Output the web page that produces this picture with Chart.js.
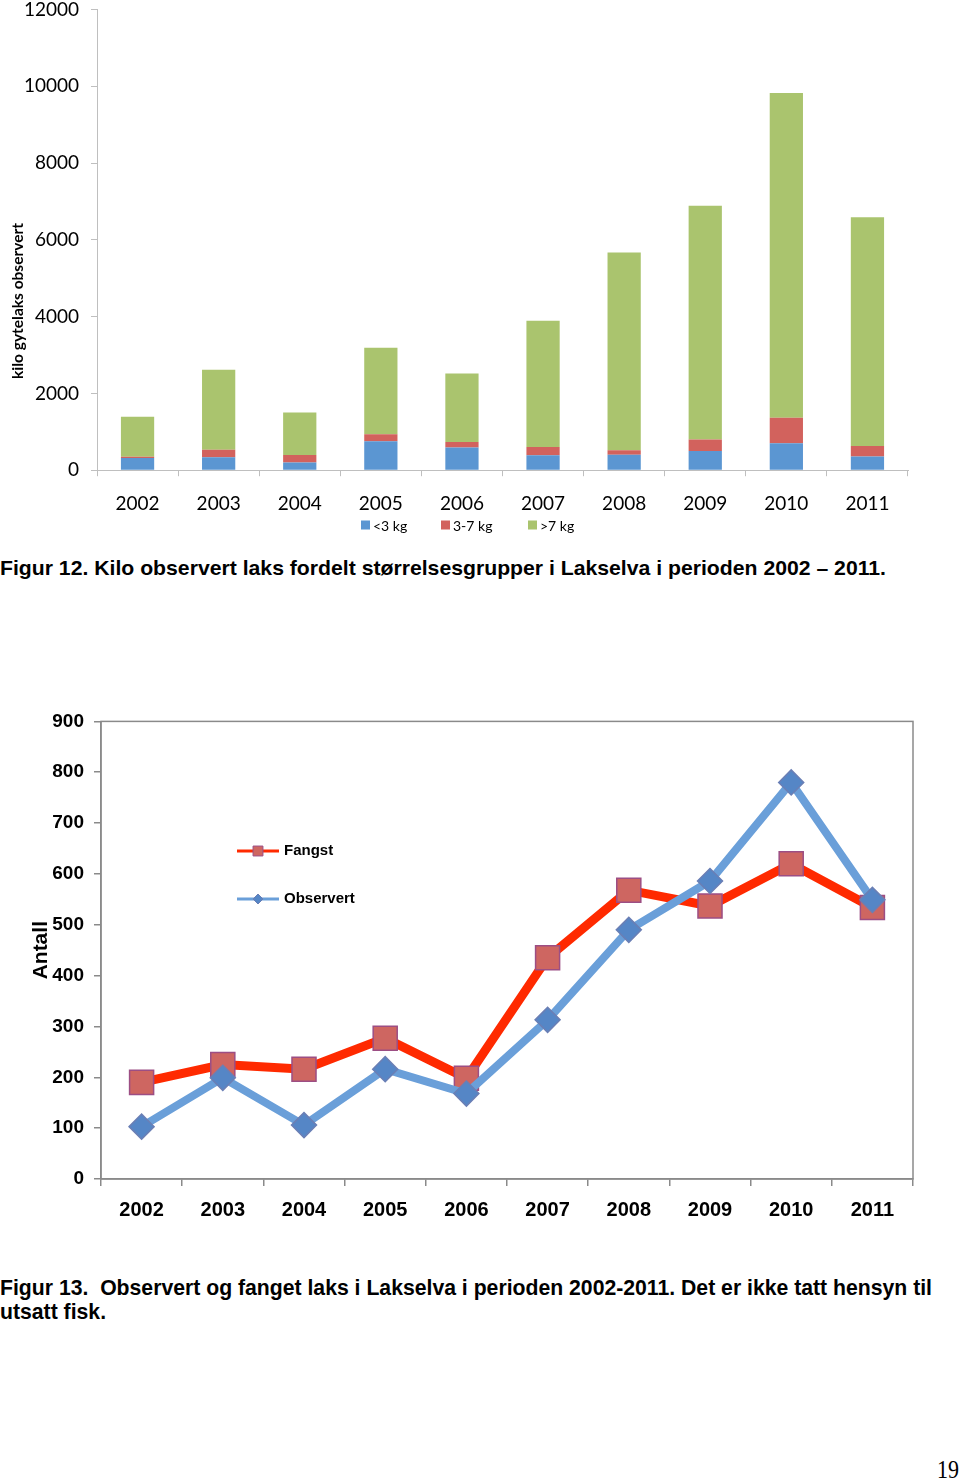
<!DOCTYPE html>
<html>
<head>
<meta charset="utf-8">
<script src="https://cdn.jsdelivr.net/npm/chart.js@4.4.1/dist/chart.umd.min.js"></script>
<style>
  html, body { margin: 0; padding: 0; background: #fff; }
  body { width: 960px; height: 1481px; position: relative; overflow: hidden; }
  .box { position: absolute; }
  .cap { position: absolute; left: 0; color: #000; white-space: nowrap; transform-origin: 0 0; }
  #cap12 { top: 556px; font: bold 21px "Liberation Sans", Arial, sans-serif; }
  #cap13 { top: 1276px; font: bold 22px "Liberation Sans Narrow", "Arial Narrow", "Liberation Sans", sans-serif; line-height: 24px; }
  #pg { position: absolute; left: 937px; top: 1455px; font: 26px "Liberation Serif", "Times New Roman", serif; color: #000; transform-origin: 0 0; }
</style>
</head>
<body>
<div class="box" id="b1" style="left:0;top:-14px;width:960px;height:559px;"><canvas id="c1"></canvas></div>
<div class="cap" id="cap12">Figur 12. Kilo observert laks fordelt størrelsesgrupper i Lakselva i perioden 2002 – 2011.</div>
<div class="box" id="b2" style="left:0;top:700px;width:960px;height:534px;"><canvas id="c2"></canvas></div>
<div class="cap" id="cap13"><span id="l13a">Figur 13.&nbsp; Observert og fanget laks i Lakselva i perioden 2002-2011. Det er ikke tatt hensyn til</span><br>utsatt fisk.</div>
<div id="pg">19</div>
<script>
// ---- Data: Figur 12 ----
const years = ['2002','2003','2004','2005','2006','2007','2008','2009','2010','2011'];
const under3kg = [320, 340, 200, 755, 590, 390, 405, 500, 700, 360];
const from3to7kg = [30, 190, 195, 180, 145, 215, 115, 300, 665, 270];
const over7kg = [1040, 2085, 1105, 2255, 1780, 3290, 5150, 6085, 8460, 5960];
const yTicks1 = [0, 2000, 4000, 6000, 8000, 10000, 12000];

// ---- Data: Figur 13 ----
const fangst = [190, 225, 216, 277, 198, 435, 568, 537, 620, 534];
const observert = [103, 199, 106, 216, 168, 313, 490, 586, 780, 549];
const yTicks2 = [0, 100, 200, 300, 400, 500, 600, 700, 800, 900];

Chart.defaults.color = '#000';
Chart.defaults.animation = false;

// fit caption widths to the reference text block
function fitWidth(el, target) {
  const w = el.getBoundingClientRect().width;
  if (w > 0) el.style.transform = 'scaleX(' + (target / w) + ')';
}
fitWidth(document.getElementById('cap12'), 886);
(function () {
  const cap = document.getElementById('cap13');
  const w = document.getElementById('l13a').getBoundingClientRect().width;
  if (w > 0) cap.style.transform = 'scaleX(' + (932 / w) + ')';
})();
fitWidth(document.getElementById('pg'), 22);

const yTitlePlugin = {
  id: 'yTitle1',
  afterDraw(chart, args, opts) {
    const ctx = chart.ctx;
    ctx.save();
    ctx.translate(opts.x, opts.y);
    ctx.rotate(-Math.PI / 2);
    ctx.font = opts.font;
    ctx.fillStyle = '#000';
    ctx.textAlign = 'center';
    ctx.textBaseline = 'middle';
    ctx.fillText(opts.text, 0, 0);
    ctx.restore();
  }
};

const boxLegend = {
  id: 'boxLegend',
  afterDraw(chart, args, opts) {
    const ctx = chart.ctx;
    chart.data.datasets.forEach((ds, i) => {
      const x = opts.xs[i];
      ctx.save();
      ctx.fillStyle = ds.backgroundColor;
      ctx.fillRect(x, opts.y - opts.box / 2, opts.box, opts.box);
      ctx.fillStyle = '#000';
      ctx.font = opts.font;
      ctx.textAlign = 'left';
      ctx.textBaseline = 'middle';
      ctx.fillText(ds.label, x + opts.box + 3, opts.y + 1);
      ctx.restore();
    });
  }
};

new Chart(document.getElementById('c1'), {
  type: 'bar',
  data: {
    labels: years,
    datasets: [
      { label: '<3 kg', data: under3kg, backgroundColor: '#5B96D2' },
      { label: '3-7 kg', data: from3to7kg, backgroundColor: '#D2625D' },
      { label: '>7 kg', data: over7kg, backgroundColor: '#AAC46E' }
    ]
  },
  options: {
    responsive: true,
    maintainAspectRatio: false,
    layout: { padding: { left: 0, right: 52, top: 0, bottom: 14 } },
    datasets: { bar: { categoryPercentage: 1, barPercentage: 0.41 } },
    plugins: {
      legend: { display: false },
      tooltip: { enabled: false },
      boxLegend: { xs: [361, 441, 528], y: 539, box: 9, font: '14px Lato, "Open Sans", sans-serif' },
      yTitle1: { text: 'kilo gytelaks observert', x: 18, y: 315, font: 'bold 15.5px Lato, "Open Sans", sans-serif' }
    },
    scales: {
      x: {
        stacked: true,
        offset: true,
        grid: { display: true, drawOnChartArea: false, drawTicks: true, tickLength: 6, color: '#BFBFBF', offset: true },
        border: { color: '#BFBFBF' },
        ticks: { font: { family: 'Lato, "Open Sans", sans-serif', size: 19 }, color: '#000', padding: 16 }
      },
      y: {
        stacked: true,
        min: 0, max: 12000,
        afterBuildTicks: (s) => { s.ticks = yTicks1.map(v => ({ value: v })); },
        afterFit: (s) => { s.width = 97; },
        grid: { display: true, drawOnChartArea: false, drawTicks: true, tickLength: 6, color: '#BFBFBF' },
        border: { color: '#BFBFBF' },
        ticks: { font: { family: 'Lato, "Open Sans", sans-serif', size: 19 }, color: '#000', padding: 12, callback: (v) => String(v) }
      }
    }
  },
  plugins: [yTitlePlugin, boxLegend]
});

const areaBorder = {
  id: 'areaBorder',
  beforeDatasetsDraw(chart, args, opts) {
    const { ctx, chartArea: a } = chart;
    ctx.save();
    ctx.strokeStyle = opts.color;
    ctx.lineWidth = opts.width;
    ctx.strokeRect(a.left, a.top, a.right - a.left, a.bottom - a.top);
    ctx.restore();
  }
};

const innerLegend = {
  id: 'innerLegend',
  afterDraw(chart, args, opts) {
    const ctx = chart.ctx;
    opts.items.forEach((it) => {
      const ds = chart.data.datasets[it.index];
      ctx.save();
      ctx.strokeStyle = ds.borderColor;
      ctx.lineWidth = opts.lineWidth;
      ctx.beginPath();
      ctx.moveTo(opts.x1, it.y);
      ctx.lineTo(opts.x2, it.y);
      ctx.stroke();
      ctx.fillStyle = ds.pointBackgroundColor;
      ctx.strokeStyle = ds.pointBorderColor;
      ctx.lineWidth = 1;
      Chart.helpers.drawPoint(ctx, { pointStyle: ds.pointStyle, radius: it.r, rotation: 0, borderWidth: 1 }, (opts.x1 + opts.x2) / 2, it.y);
      ctx.fillStyle = '#000';
      ctx.font = opts.font;
      ctx.textBaseline = 'middle';
      ctx.textAlign = 'left';
      ctx.fillText(ds.label, opts.textX, it.y);
      ctx.restore();
    });
  }
};

new Chart(document.getElementById('c2'), {
  type: 'line',
  data: {
    labels: years,
    datasets: [
      {
        label: 'Fangst', data: fangst, order: 2,
        borderColor: '#FF2A00', borderWidth: 9,
        pointStyle: 'rect', pointRadius: 17, pointBackgroundColor: '#CE6661', pointBorderColor: '#9C4E84', pointBorderWidth: 1.5,
        tension: 0
      },
      {
        label: 'Observert', data: observert, order: 1,
        borderColor: '#6A9FD9', borderWidth: 8,
        pointStyle: 'rectRot', pointRadius: 12.5, pointBackgroundColor: '#5586C6', pointBorderColor: '#6A7FB5', pointBorderWidth: 1.5,
        tension: 0
      }
    ]
  },
  options: {
    responsive: true,
    maintainAspectRatio: false,
    layout: { padding: { left: 0, right: 47, top: 12, bottom: 0 } },
    plugins: {
      legend: { display: false },
      tooltip: { enabled: false },
      areaBorder: { color: '#8A8A8A', width: 1.5 },
      innerLegend: {
        x1: 237, x2: 279, textX: 284, lineWidth: 3,
        font: 'bold 15px "Liberation Sans", Arial, sans-serif',
        items: [ { index: 0, y: 151, r: 7 }, { index: 1, y: 199, r: 5 } ]
      }
    },
    scales: {
      x: {
        offset: true,
        grid: { display: true, drawOnChartArea: false, drawTicks: true, tickLength: 7, color: '#8A8A8A', offset: true, lineWidth: 1.5 },
        border: { color: '#8A8A8A', width: 1.5 },
        ticks: { font: { family: '"Liberation Sans", Arial, sans-serif', size: 20, weight: 'bold' }, color: '#000', padding: 12 }
      },
      y: {
        min: 0, max: 900,
        afterBuildTicks: (s) => { s.ticks = yTicks2.map(v => ({ value: v })); },
        afterFit: (s) => { s.width = 101; },
        title: { display: true, text: 'Antall', font: { family: '"Liberation Sans", Arial, sans-serif', size: 21, weight: 'bold' }, color: '#000', padding: { top: 29, bottom: 0 } },
        grid: { display: true, drawOnChartArea: false, drawTicks: true, tickLength: 7, color: '#8A8A8A', lineWidth: 1.5 },
        border: { color: '#8A8A8A', width: 1.5 },
        ticks: { font: { family: '"Liberation Sans", Arial, sans-serif', size: 19, weight: 'bold' }, color: '#000', padding: 10 }
      }
    }
  },
  plugins: [areaBorder, innerLegend]
});
</script>
</body>
</html>
